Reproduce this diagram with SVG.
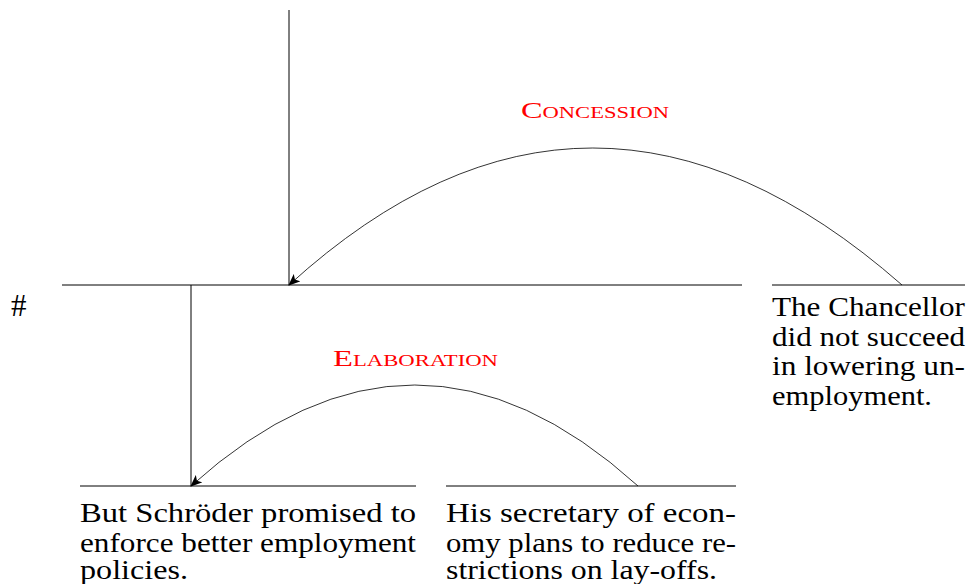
<svg xmlns="http://www.w3.org/2000/svg" width="975" height="584" viewBox="0 0 975 584">
<style>
.ln{stroke:#000;stroke-width:1;fill:none}
.arc{stroke:#000;stroke-width:0.8;fill:none;marker-end:url(#ah)}
.tx{font-size:27px;fill:#000}
.rel{font-size:23px;font-variant:small-caps;fill:#ff0000}
</style>
<defs>
<marker id="ah" viewBox="0 0 12 10" refX="11" refY="5" markerWidth="12" markerHeight="10" markerUnits="userSpaceOnUse" orient="auto">
<path d="M0,0 L12,5 L0,10 L3,5 Z" fill="#000"/>
</marker>
</defs>
<rect width="975" height="584" fill="#fff"/>
<g font-family="Liberation Serif, Times New Roman, serif">
<g id="root">
<text class="tx" x="11" y="316" style="font-size:31px">#</text>
</g>
<g id="span-top">
<line class="ln" x1="289" y1="10" x2="289" y2="285"/>
<line class="ln" x1="62" y1="285" x2="742" y2="285"/>
</g>
<g id="span-lower">
<line class="ln" x1="191" y1="285" x2="191" y2="486"/>
</g>
<g id="n-chancellor">
<line class="ln" x1="772" y1="285" x2="965" y2="285"/>
<text class="tx" x="772" y="316" textLength="193" lengthAdjust="spacingAndGlyphs">The Chancellor</text>
<text class="tx" x="772" y="345.5" textLength="193" lengthAdjust="spacingAndGlyphs">did not succeed</text>
<text class="tx" x="772" y="375" textLength="193" lengthAdjust="spacingAndGlyphs">in lowering un-</text>
<text class="tx" x="772" y="404.5" textLength="160" lengthAdjust="spacingAndGlyphs">employment.</text>
</g>
<g id="n-schroeder">
<line class="ln" x1="80" y1="486" x2="416" y2="486"/>
<text class="tx" x="80" y="522" textLength="336" lengthAdjust="spacingAndGlyphs">But Schröder promised to</text>
<text class="tx" x="80" y="551.5" textLength="336" lengthAdjust="spacingAndGlyphs">enforce better employment</text>
<text class="tx" x="80" y="579" textLength="108" lengthAdjust="spacingAndGlyphs">policies.</text>
</g>
<g id="n-secretary">
<line class="ln" x1="446" y1="486" x2="736" y2="486"/>
<text class="tx" x="446" y="522" textLength="290" lengthAdjust="spacingAndGlyphs">His secretary of econ-</text>
<text class="tx" x="446" y="551.5" textLength="290" lengthAdjust="spacingAndGlyphs">omy plans to reduce re-</text>
<text class="tx" x="446" y="579" textLength="271" lengthAdjust="spacingAndGlyphs">strictions on lay-offs.</text>
</g>
<g id="connectors">
<path class="arc" d="M902,285 Q590,11 289,285"/>
<path class="arc" d="M638,486 Q415,284 191,486"/>
</g>
<g id="labels">
<text class="rel" x="521" y="118" textLength="148" lengthAdjust="spacingAndGlyphs">Concession</text>
<text class="rel" x="333" y="366" textLength="165" lengthAdjust="spacingAndGlyphs">Elaboration</text>
</g>
</g>
</svg>
